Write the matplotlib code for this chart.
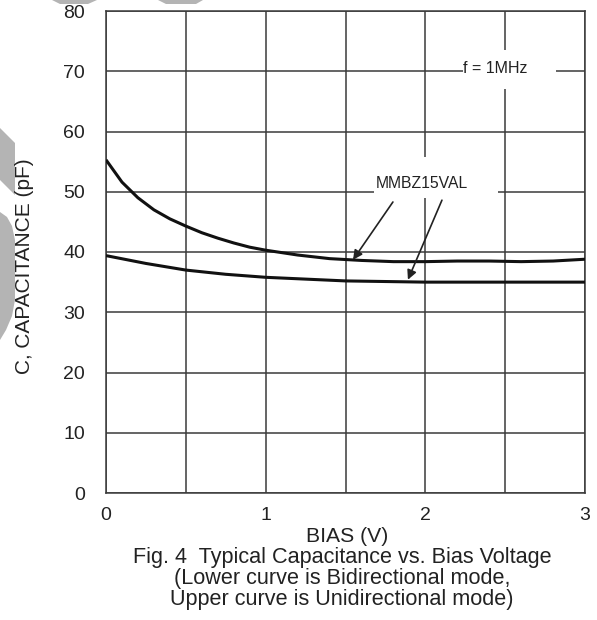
import matplotlib
matplotlib.use("Agg")
import matplotlib.pyplot as plt
from matplotlib.patches import Rectangle, Polygon

plt.rcParams['font.family'] = ['Liberation Sans', 'DejaVu Sans']

# Data
bias_upper = [0.0, 0.1, 0.2, 0.3, 0.4, 0.5, 0.6, 0.7, 0.8, 0.9, 1.0, 1.2, 1.4,
              1.6, 1.8, 2.0, 2.2, 2.4, 2.6, 2.8, 3.0]
cap_upper = [55.3, 51.6, 49.0, 47.0, 45.5, 44.3, 43.2, 42.3, 41.5, 40.8, 40.3,
             39.5, 38.9, 38.6, 38.4, 38.4, 38.5, 38.5, 38.4, 38.5, 38.8]
bias_lower = [0.0, 0.25, 0.5, 0.75, 1.0, 1.25, 1.5, 1.75, 2.0, 2.5, 3.0]
cap_lower = [39.4, 38.1, 37.0, 36.3, 35.8, 35.5, 35.2, 35.1, 35.0, 35.0, 35.0]

x_ticks = [0, 1, 2, 3]
y_ticks = [0, 10, 20, 30, 40, 50, 60, 70, 80]
x_grid = [0.5, 1.0, 1.5, 2.0, 2.5]

W, H = 597, 620
fig = plt.figure(figsize=(W / 100, H / 100), dpi=100)
ax = fig.add_axes([106 / W, 1 - 493 / H, 479 / W, 482 / H])

gc = '#3a3a3a'
ax.set_xlim(0, 3)
ax.set_ylim(0, 80)
ax.set_xticks(x_ticks)
ax.set_yticks(y_ticks)
ax.set_xticks(x_grid, minor=True)
ax.grid(True, which='both', color=gc, linewidth=1.1, zorder=0.5)
ax.set_axisbelow(True)
for s in ax.spines.values():
    s.set_color(gc)
    s.set_linewidth(1.1)
ax.tick_params(which='both', length=0)
ax.tick_params(axis='y', pad=15, labelsize=14, labelcolor='#222')
ax.tick_params(axis='x', pad=10, labelsize=14, labelcolor='#222')

# white boxes behind annotations
ax.add_patch(Rectangle((2.235, 67.0), 0.583, 6.5, facecolor='white',
                       edgecolor='none', zorder=1))
ax.add_patch(Rectangle((1.68, 49.0), 0.775, 6.8, facecolor='white',
                       edgecolor='none', zorder=1))

ax.plot(bias_upper, cap_upper, color='#111', linewidth=2.2, zorder=3,
        solid_capstyle='butt')
ax.plot(bias_lower, cap_lower, color='#111', linewidth=2.2, zorder=3,
        solid_capstyle='butt')

ax.text(2.235, 70.45, 'f = 1MHz', fontsize=11.5, ha='left', va='center',
        color='#222', zorder=4)
ax.text(1.976, 51.3, 'MMBZ15VAL', fontsize=11.3, ha='center', va='center',
        color='#222', zorder=4)

aprops = dict(arrowstyle='-|>', color='#222', lw=1.2, mutation_scale=14,
              shrinkA=0, shrinkB=0)
ax.annotate('', xy=(1.547, 38.7), xytext=(1.797, 48.3), arrowprops=aprops,
            zorder=4)
ax.annotate('', xy=(1.891, 35.4), xytext=(2.104, 48.6), arrowprops=aprops,
            zorder=4)

# axis labels and captions
fig.text(25 / W, 1 - 266 / H, 'C, CAPACITANCE (pF)', rotation=90,
         ha='center', va='center', fontsize=15, color='#222')
fig.text(347 / W, 1 - 542 / H, 'BIAS (V)', ha='center', va='baseline',
         fontsize=15.2, color='#222')
cap_kw = dict(ha='center', va='baseline', fontsize=15.6, color='#222')
fig.text(342 / W, 1 - 563 / H, 'Fig. 4  Typical Capacitance vs. Bias Voltage',
         **cap_kw)
fig.text(342 / W, 1 - 584 / H, '(Lower curve is Bidirectional mode,', **cap_kw)
fig.text(342 / W, 1 - 605 / H, 'Upper curve is Unidirectional mode)', **cap_kw)

# grey watermark fragments
wm = '#b4b4b4'
def figpoly(pts):
    fig.patches.append(Polygon([(px / W, 1 - py / H) for px, py in pts],
                               closed=True, transform=fig.transFigure,
                               facecolor=wm, edgecolor='none', zorder=0))
figpoly([(52, 0), (97, 0), (88, 4), (60, 4)])
figpoly([(158, 0), (203, 0), (196, 4), (166, 4)])
figpoly([(0, 128), (15, 143), (15, 195), (0, 180)])
figpoly([(0, 212), (7, 217), (12, 226), (15, 240), (15, 300), (12, 316),
         (6, 330), (0, 340)])

fig.savefig('out.png', dpi=100)
